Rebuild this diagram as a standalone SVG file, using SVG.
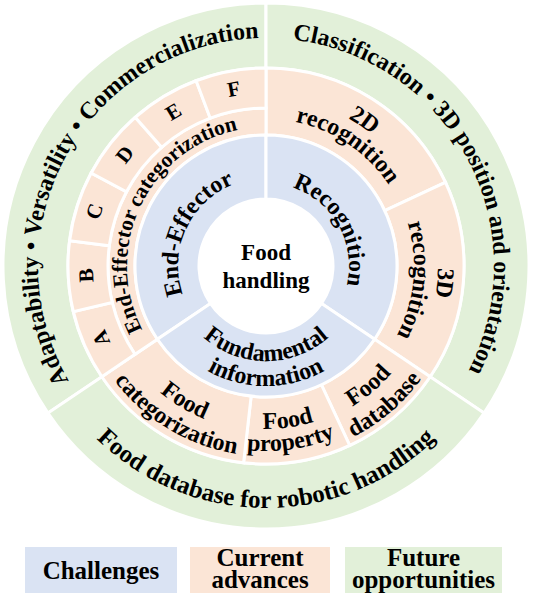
<svg xmlns="http://www.w3.org/2000/svg" xmlns:xlink="http://www.w3.org/1999/xlink" width="533" height="597" viewBox="0 0 533 597">
<style>
.blue{fill:#DAE3F3;stroke:#fff;stroke-width:3}
.pink{fill:#FBE5D6;stroke:#fff;stroke-width:3}
.green{fill:#E2F0D9;stroke:#fff;stroke-width:3}
.lg{stroke:none}
text{font-family:"Liberation Serif","Times New Roman",serif;font-weight:bold;fill:#000}
.f24{font-size:24px}
.f25{font-size:25px}
.f23{font-size:23px}
.f21{font-size:21.5px}
.let{font-size:21px;text-anchor:middle}
.mid{text-anchor:middle}
</style>
<defs>
<path id="pG1" d="M138.50 455.02 A228 228 0 0 1 358.74 57.71"/>
<path id="pG2" d="M176.91 56.13 A228 228 0 0 1 390.18 457.22"/>
<path id="pG3" d="M27.68 308.02 A242 242 0 0 0 504.32 308.02"/>
<path id="pEE" d="M222 342.21 A88 88 0 0 1 296.10 183.31"/>
<path id="pRec" d="M232.24 190.18 A83 83 0 0 1 312.41 334.81"/>
<path id="pFund1" d="M172.44 282.50 A95 95 0 0 0 359.56 282.50"/>
<path id="pFund2" d="M147.82 286.84 A120 120 0 0 0 384.18 286.84"/>
<path id="p2D1" d="M144.43 148.60 A169 169 0 0 1 420.39 334.74"/>
<path id="p2D2" d="M160.26 163.88 A147 147 0 0 1 400.29 325.79"/>
<path id="p3D1" d="M311.97 100.26 A172 172 0 0 1 279.50 437.47"/>
<path id="p3D2" d="M305.55 123.38 A148 148 0 0 1 277.61 413.54"/>
<path id="pFC1" d="M111.96 206.87 A165 165 0 0 0 390.53 374.25"/>
<path id="pFC2" d="M88.62 197.91 A190 190 0 0 0 409.39 390.65"/>
<path id="pFP1" d="M110.98 316.37 A163 163 0 0 0 428.90 271.69"/>
<path id="pFP2" d="M90.05 323.17 A185 185 0 0 0 450.89 272.46"/>
<path id="pFD1" d="M161.05 393.32 A165 165 0 0 0 408.17 182.26"/>
<path id="pFD2" d="M143.87 414.15 A192 192 0 0 0 431.43 168.55"/>
<path id="pEEC" d="M185.28 379.16 A139 139 0 0 1 303.15 132.06"/>
</defs>

<g id="future-adaptability">
<path class="green" d="M47.96 413.07 A263 263 0 0 1 266 3 L266 68 A198 198 0 0 0 101.85 376.72 Z"/>
<text class="f24"><textPath xlink:href="#pG1" href="#pG1" startOffset="50%" text-anchor="middle">Adaptability • Versatility • Commercialization</textPath></text>
</g>
<g id="future-classification">
<path class="green" d="M266 3 A263 263 0 0 1 484.04 413.07 L430.15 376.72 A198 198 0 0 0 266 68 Z"/>
<text class="f24"><textPath xlink:href="#pG2" href="#pG2" startOffset="50%" text-anchor="middle">Classification • 3D position and orientation</textPath></text>
</g>
<g id="future-database">
<path class="green" d="M484.04 413.07 A263 263 0 0 1 47.96 413.07 L101.85 376.72 A198 198 0 0 0 430.15 376.72 Z"/>
<text class="f25"><textPath xlink:href="#pG3" href="#pG3" startOffset="50%" text-anchor="middle">Food database for robotic handling</textPath></text>
</g>

<g id="advance-2d">
<path class="pink" d="M266 68 A198 198 0 0 1 445.45 182.32 L384.73 210.64 A131 131 0 0 0 266 135 Z"/>
<text class="f24"><textPath xlink:href="#p2D1" href="#p2D1" startOffset="50%" text-anchor="middle">2D</textPath></text>
<text class="f24"><textPath xlink:href="#p2D2" href="#p2D2" startOffset="50%" text-anchor="middle">recognition</textPath></text>
</g>
<g id="advance-3d">
<path class="pink" d="M445.45 182.32 A198 198 0 0 1 430.15 376.72 L374.60 339.25 A131 131 0 0 0 384.73 210.64 Z"/>
<text class="f24"><textPath xlink:href="#p3D1" href="#p3D1" startOffset="50%" text-anchor="middle">3D</textPath></text>
<text class="f24"><textPath xlink:href="#p3D2" href="#p3D2" startOffset="50%" text-anchor="middle">recognition</textPath></text>
</g>
<g id="advance-food-database">
<path class="pink" d="M430.15 376.72 A198 198 0 0 1 349.68 445.45 L321.36 384.73 A131 131 0 0 0 374.60 339.25 Z"/>
<text class="f24"><textPath xlink:href="#pFD1" href="#pFD1" startOffset="50%" text-anchor="middle">Food</textPath></text>
<text class="f24"><textPath xlink:href="#pFD2" href="#pFD2" startOffset="50%" text-anchor="middle">database</textPath></text>
</g>
<g id="advance-food-property">
<path class="pink" d="M349.68 445.45 A198 198 0 0 1 243.59 462.73 L251.17 396.16 A131 131 0 0 0 321.36 384.73 Z"/>
<text class="f24"><textPath xlink:href="#pFP1" href="#pFP1" startOffset="50%" text-anchor="middle">Food</textPath></text>
<text class="f24"><textPath xlink:href="#pFP2" href="#pFP2" startOffset="50%" text-anchor="middle">property</textPath></text>
</g>
<g id="advance-food-categorization">
<path class="pink" d="M243.59 462.73 A198 198 0 0 1 101.85 376.72 L157.40 339.25 A131 131 0 0 0 251.17 396.16 Z"/>
<text class="f24"><textPath xlink:href="#pFC1" href="#pFC1" startOffset="50%" text-anchor="middle">Food</textPath></text>
<text class="f24"><textPath xlink:href="#pFC2" href="#pFC2" startOffset="50%" text-anchor="middle">categorization</textPath></text>
</g>
<g id="advance-ee-categorization">
<path class="pink" d="M135.01 354.35 A158 158 0 0 1 266 108 L266 135 A131 131 0 0 0 157.40 339.25 Z"/>
<text class="f21"><textPath xlink:href="#pEEC" href="#pEEC" startOffset="50%" text-anchor="middle">End-Effector categorization</textPath></text>
</g>
<g id="ee-type-a">
<path class="pink" d="M101.85 376.72 A198 198 0 0 1 73.34 311.66 L112.26 302.44 A158 158 0 0 0 135.01 354.35 Z"/>
<text class="let" transform="translate(101.14 338.27) rotate(246.33)" y="7">A</text>
</g>
<g id="ee-type-b">
<path class="pink" d="M73.34 311.66 A198 198 0 0 1 69.62 240.73 L109.29 245.83 A158 158 0 0 0 112.26 302.44 Z"/>
<text class="let" transform="translate(86.25 275.42) rotate(267)" y="7">B</text>
</g>
<g id="ee-type-c">
<path class="pink" d="M69.62 240.73 A198 198 0 0 1 91.18 173.04 L126.49 191.82 A158 158 0 0 0 109.29 245.83 Z"/>
<text class="let" transform="translate(94.49 211.36) rotate(287.67)" y="7">C</text>
</g>
<g id="ee-type-d">
<path class="pink" d="M91.18 173.04 A198 198 0 0 1 135.23 117.33 L161.65 147.36 A158 158 0 0 0 126.49 191.82 Z"/>
<text class="let" transform="translate(124.80 154.36) rotate(308.33)" y="7">D</text>
</g>
<g id="ee-type-e">
<path class="pink" d="M135.23 117.33 A198 198 0 0 1 196.13 80.74 L210.25 118.16 A158 158 0 0 0 161.65 147.36 Z"/>
<text class="let" transform="translate(173.29 111.71) rotate(329)" y="7">E</text>
</g>
<g id="ee-type-f">
<path class="pink" d="M196.13 80.74 A198 198 0 0 1 266 68 L266 108 A158 158 0 0 0 210.25 118.16 Z"/>
<text class="let" transform="translate(233.71 88.92) rotate(349.67)" y="7">F</text>
</g>

<g id="challenge-end-effector">
<path class="blue" d="M157.40 339.25 A131 131 0 0 1 266 135 L266 199 A67 67 0 0 0 210.45 303.47 Z"/>
<text class="f24"><textPath xlink:href="#pEE" href="#pEE" startOffset="50%" text-anchor="middle">End-Effector</textPath></text>
</g>
<g id="challenge-recognition">
<path class="blue" d="M266 135 A131 131 0 0 1 374.60 339.25 L321.55 303.47 A67 67 0 0 0 266 199 Z"/>
<text class="f24"><textPath xlink:href="#pRec" href="#pRec" startOffset="50%" text-anchor="middle">Recognition</textPath></text>
</g>
<g id="challenge-fundamental">
<path class="blue" d="M374.60 339.25 A131 131 0 0 1 157.40 339.25 L210.45 303.47 A67 67 0 0 0 321.55 303.47 Z"/>
<text class="f24"><textPath xlink:href="#pFund1" href="#pFund1" startOffset="50%" text-anchor="middle">Fundamental</textPath></text>
<text class="f24"><textPath xlink:href="#pFund2" href="#pFund2" startOffset="50%" text-anchor="middle">information</textPath></text>
</g>

<g id="center-food-handling">
<circle cx="266" cy="266" r="67" fill="#fff"/>
<text class="f23 mid" x="266" y="260">Food</text>
<text class="f23 mid" x="266" y="288">handling</text>
</g>

<g id="connectors"/>

<g id="legend-challenges">
<rect class="blue lg" x="25" y="547" width="152" height="46"/>
<text class="f25 mid" x="101" y="579">Challenges</text>
</g>
<g id="legend-current">
<rect class="pink lg" x="190" y="547" width="140" height="46"/>
<text class="f25 mid" x="260" y="566">Current</text>
<text class="f25 mid" x="260" y="588">advances</text>
</g>
<g id="legend-future">
<rect class="green lg" x="345" y="547" width="157" height="46"/>
<text class="f25 mid" x="423.5" y="566">Future</text>
<text class="f25 mid" x="423.5" y="588">opportunities</text>
</g>
</svg>
